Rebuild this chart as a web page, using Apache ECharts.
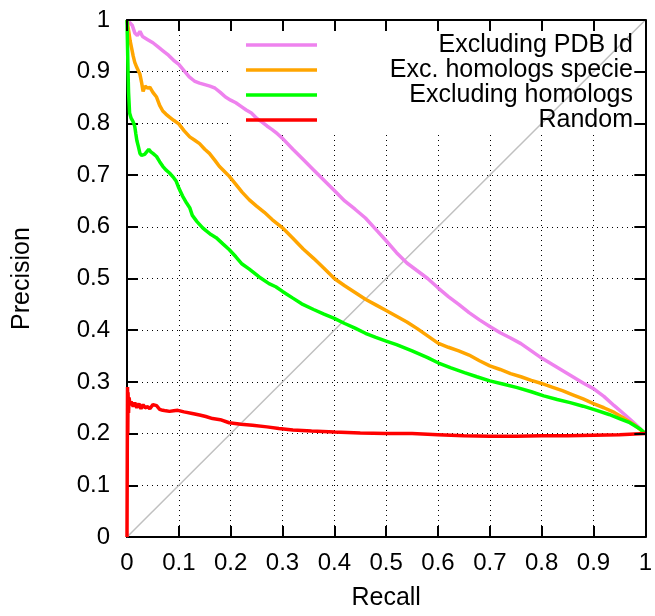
<!DOCTYPE html>
<html>
<head>
<meta charset="utf-8">
<script src="https://cdn.jsdelivr.net/npm/echarts@6/dist/echarts.min.js"></script>
<style>html,body{margin:0;padding:0;background:#fff;}#c{width:655px;height:616px;}</style>
</head>
<body>
<div id="c"></div>
<script>
var seriesNames = ['Excluding PDB Id', 'Exc. homologs specie', 'Excluding homologs', 'Random'];
var xTicks = [0, 0.1, 0.2, 0.3, 0.4, 0.5, 0.6, 0.7, 0.8, 0.9, 1];
var yTicks = [0, 0.1, 0.2, 0.3, 0.4, 0.5, 0.6, 0.7, 0.8, 0.9, 1];

var pdbRecall = [0,0.005,0.01,0.015,0.02,0.025,0.03,0.04,0.05,0.06,0.07,0.08,0.09,0.10,0.11,0.12,0.13,0.14,0.15,0.16,0.17,0.18,0.19,0.20,0.21,0.22,0.23,0.24,0.25,0.26,0.27,0.28,0.29,0.30,0.32,0.34,0.36,0.38,0.40,0.42,0.44,0.46,0.48,0.50,0.52,0.54,0.56,0.58,0.60,0.62,0.64,0.66,0.68,0.70,0.72,0.74,0.76,0.78,0.80,0.82,0.84,0.86,0.88,0.90,0.92,0.94,0.96,0.98,1.0];
var pdbPrecision = [1.0,0.995,0.99,0.975,0.97,0.978,0.968,0.962,0.956,0.948,0.94,0.932,0.922,0.914,0.902,0.89,0.882,0.878,0.875,0.872,0.868,0.86,0.851,0.845,0.84,0.833,0.826,0.82,0.81,0.803,0.795,0.788,0.78,0.771,0.75,0.73,0.71,0.69,0.67,0.65,0.634,0.617,0.595,0.573,0.55,0.53,0.515,0.50,0.482,0.465,0.45,0.434,0.42,0.407,0.395,0.385,0.374,0.36,0.346,0.334,0.322,0.31,0.298,0.287,0.272,0.254,0.237,0.219,0.2];

var speRecall = [0,0.003,0.006,0.009,0.012,0.015,0.019,0.022,0.025,0.028,0.031,0.035,0.04,0.044,0.05,0.057,0.063,0.069,0.075,0.082,0.09,0.10,0.11,0.121,0.13,0.14,0.15,0.159,0.17,0.178,0.19,0.197,0.21,0.222,0.236,0.25,0.265,0.28,0.30,0.32,0.34,0.36,0.38,0.40,0.42,0.44,0.46,0.48,0.50,0.52,0.54,0.56,0.58,0.60,0.62,0.64,0.66,0.68,0.70,0.72,0.74,0.76,0.78,0.80,0.82,0.84,0.86,0.88,0.90,0.92,0.94,0.96,0.98,1.0];
var spePrecision = [1.0,0.98,0.96,0.945,0.93,0.918,0.908,0.905,0.895,0.88,0.862,0.872,0.868,0.87,0.86,0.851,0.835,0.824,0.818,0.812,0.806,0.799,0.786,0.774,0.768,0.761,0.75,0.742,0.728,0.717,0.705,0.698,0.682,0.667,0.652,0.64,0.628,0.614,0.598,0.578,0.557,0.539,0.52,0.50,0.486,0.473,0.46,0.449,0.438,0.427,0.416,0.403,0.389,0.375,0.367,0.36,0.352,0.341,0.331,0.324,0.316,0.31,0.303,0.297,0.29,0.283,0.275,0.267,0.258,0.25,0.241,0.229,0.216,0.2];

var homRecall = [0,0.001,0.002,0.003,0.004,0.005,0.006,0.008,0.011,0.013,0.015,0.017,0.019,0.022,0.025,0.028,0.031,0.034,0.038,0.042,0.046,0.05,0.057,0.063,0.069,0.075,0.082,0.09,0.095,0.10,0.107,0.115,0.121,0.126,0.135,0.146,0.153,0.162,0.172,0.185,0.197,0.21,0.222,0.236,0.255,0.274,0.287,0.30,0.32,0.337,0.36,0.38,0.40,0.42,0.44,0.46,0.48,0.50,0.52,0.55,0.58,0.60,0.625,0.651,0.675,0.70,0.725,0.753,0.78,0.804,0.83,0.855,0.88,0.906,0.93,0.95,0.97,0.99,1.0];
var homPrecision = [1.0,0.95,0.9,0.86,0.84,0.82,0.818,0.81,0.805,0.8,0.794,0.78,0.767,0.755,0.742,0.738,0.736,0.74,0.745,0.75,0.745,0.742,0.736,0.726,0.717,0.71,0.704,0.695,0.688,0.675,0.66,0.646,0.637,0.622,0.61,0.598,0.592,0.585,0.579,0.567,0.556,0.542,0.528,0.518,0.503,0.49,0.484,0.475,0.462,0.451,0.44,0.431,0.423,0.413,0.404,0.394,0.386,0.379,0.372,0.36,0.347,0.337,0.327,0.318,0.31,0.302,0.296,0.289,0.281,0.273,0.266,0.26,0.253,0.245,0.237,0.229,0.221,0.209,0.2];

var rndRecall = [0,0.0005,0.001,0.0015,0.002,0.003,0.004,0.006,0.008,0.01,0.012,0.015,0.019,0.023,0.027,0.031,0.035,0.04,0.044,0.05,0.057,0.063,0.069,0.075,0.082,0.09,0.098,0.11,0.126,0.14,0.152,0.165,0.18,0.197,0.22,0.242,0.27,0.293,0.32,0.356,0.4,0.45,0.5,0.55,0.6,0.65,0.7,0.75,0.8,0.85,0.9,0.95,1.0];
var rndPrecision = [0,0.15,0.29,0.2,0.28,0.24,0.27,0.255,0.262,0.265,0.252,0.26,0.25,0.258,0.248,0.256,0.25,0.252,0.248,0.256,0.254,0.247,0.245,0.244,0.243,0.244,0.245,0.242,0.239,0.236,0.233,0.229,0.227,0.221,0.218,0.216,0.213,0.21,0.207,0.205,0.203,0.201,0.2,0.2,0.198,0.196,0.195,0.195,0.196,0.196,0.197,0.198,0.2];

var diagRecall = [0, 1];
var diagPrecision = [0, 1];

var colors = ['#ee82ee', '#ffa500', '#00ff00', '#ff0000'];

function zip(a, b) { return a.map(function (v, i) { return [v, b[i]]; }); }

var FONT = 'Liberation Sans, Arial, Helvetica, sans-serif';
var chart = echarts.init(document.getElementById('c'), null, { renderer: 'canvas' });

var gridL = 127, gridR = 6, gridT = 20, gridB = 73;

function baseAxis(extra) {
  var o = {
    type: 'value', min: 0, max: 1, interval: 0.1,
    axisLine: { show: true, onZero: false, lineStyle: { color: '#000', width: 2 } },
    axisTick: { show: true, inside: true, length: 11, lineStyle: { color: '#000', width: 2 } },
    axisLabel: { show: false },
    splitLine: { show: false }
  };
  for (var k in extra) o[k] = extra[k];
  return o;
}

var lineSeries = [
  { name: seriesNames[0], data: zip(pdbRecall, pdbPrecision), color: colors[0] },
  { name: seriesNames[1], data: zip(speRecall, spePrecision), color: colors[1] },
  { name: seriesNames[2], data: zip(homRecall, homPrecision), color: colors[2] },
  { name: seriesNames[3], data: zip(rndRecall, rndPrecision), color: colors[3] }
].map(function (s) {
  return {
    type: 'line', name: s.name, data: s.data, xAxisIndex: 0, yAxisIndex: 0,
    showSymbol: false, symbol: 'none', smooth: false, animation: false, z: 3,
    lineStyle: { color: s.color, width: 3.5 }, itemStyle: { color: s.color }
  };
});

var legendY = [45, 70, 95, 120];
var graphics = [
  { type: 'rect', shape: { x: 229, y: 20, width: 420, height: 112 }, style: { fill: '#fff' }, z: 1, silent: true }
];
seriesNames.forEach(function (n, i) {
  graphics.push({ type: 'line', shape: { x1: 246, y1: legendY[i], x2: 317, y2: legendY[i] }, style: { stroke: colors[i], lineWidth: 3.5 }, z: 10 });
  graphics.push({ type: 'text', x: 633, y: legendY[i], style: { text: n, fill: '#000', font: '25px ' + FONT, textAlign: 'right', textVerticalAlign: 'middle' }, z: 10 });
});

chart.setOption({
  animation: false,
  backgroundColor: '#fff',
  grid: { left: gridL, right: gridR, top: gridT, bottom: gridB, containLabel: false },
  legend: { show: false, data: seriesNames },
  xAxis: [
    baseAxis({
      position: 'bottom', z: 0,
      axisLabel: { show: true, color: '#000', fontSize: 24, fontFamily: FONT, margin: 14, formatter: function (v) { return String(Math.round(v * 10) / 10); } },
      splitLine: { show: true, lineStyle: { color: '#000', width: 1, type: [1, 4] } },
      name: 'Recall', nameLocation: 'middle', nameGap: 49,
      nameTextStyle: { color: '#000', fontSize: 25, fontFamily: FONT }
    }),
    baseAxis({ position: 'top', z: 5 })
  ],
  yAxis: [
    baseAxis({
      position: 'left', z: 0,
      axisLabel: { show: true, color: '#000', fontSize: 24, fontFamily: FONT, margin: 17, formatter: function (v) { return String(Math.round(v * 10) / 10); } },
      splitLine: { show: true, lineStyle: { color: '#000', width: 1, type: [1, 4] } },
      name: 'Precision', nameLocation: 'middle', nameGap: 92, nameRotate: 90,
      nameTextStyle: { color: '#000', fontSize: 25, fontFamily: FONT }
    }),
    baseAxis({ position: 'right', z: 5 })
  ],
  series: [
    {
      type: 'line', name: 'diagonal', data: zip(diagRecall, diagPrecision), xAxisIndex: 0, yAxisIndex: 0,
      showSymbol: false, symbol: 'none', animation: false, z: 2,
      lineStyle: { color: '#c0c0c0', width: 1.5 }
    }
  ].concat(lineSeries),
  graphic: graphics
});
</script>
</body>
</html>
